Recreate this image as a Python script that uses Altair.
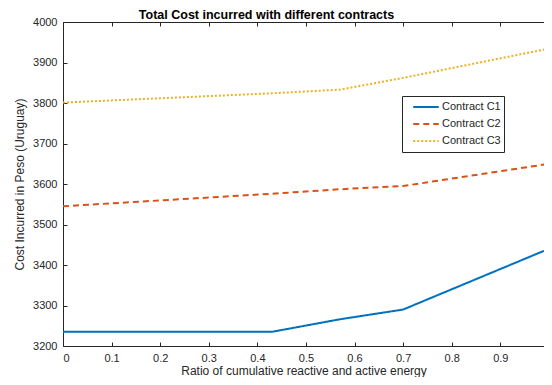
import altair as alt
import pandas as pd

ratio = [0.0, 0.43, 0.57, 0.70, 0.99]
contract_c1 = [3235, 3235, 3266, 3290, 3435]
contract_c2 = [3545, 3576, 3587, 3595, 3648]
contract_c3 = [3801, 3824, 3833, 3862, 3932]
series_names = ["Contract C1", "Contract C2", "Contract C3"]
colors = ["#0072BD", "#D95319", "#EDB120"]
dashes = [[1, 0], [6, 4], [2, 2]]
x_ticks = [0, 0.1, 0.2, 0.3, 0.4, 0.5, 0.6, 0.7, 0.8, 0.9]
y_ticks = [3200, 3300, 3400, 3500, 3600, 3700, 3800, 3900, 4000]

rows = []
for name, vals in zip(series_names, [contract_c1, contract_c2, contract_c3]):
    for x, v in zip(ratio, vals):
        rows.append({"ratio": x, "cost": v, "contract": name})
df = pd.DataFrame(rows)

font = "Liberation Sans"
xscale = alt.Scale(domain=[0, 0.99], nice=False, zero=False)
yscale = alt.Scale(domain=[3200, 4000], nice=False, zero=False)

y_enc = alt.Y("cost:Q", scale=yscale,
              axis=alt.Axis(values=y_ticks, title="Cost Incurred in Peso (Uruguay)",
                            offset=-4, tickSize=4, domain=False, grid=False, format="d",
                            labelPadding=6, titlePadding=6))

legend = alt.Legend(title=None, orient="none", legendX=339, legendY=74,
                    strokeColor="#262626", fillColor="white",
                    padding=3, symbolOffset=7, symbolType="stroke", symbolStrokeWidth=2,
                    symbolSize=650, clipHeight=16, labelFontSize=11, labelFont=font,
                    labelColor="#262626", rowPadding=1, labelOffset=2)

lines = alt.Chart(df).mark_line(strokeWidth=2).encode(
    x=alt.X("ratio:Q", scale=xscale,
            axis=alt.Axis(values=x_ticks, title="Ratio of cumulative reactive and active energy",
                          offset=-4, tickSize=4, domain=False, grid=False,
                          labelPadding=6, titlePadding=2, format="~g")),
    y=y_enc,
    color=alt.Color("contract:N", scale=alt.Scale(domain=series_names, range=colors),
                    legend=legend),
    strokeDash=alt.StrokeDash("contract:N", scale=alt.Scale(domain=series_names, range=dashes),
                              legend=legend),
)

top_ticks = alt.Chart(df).mark_line(opacity=0).encode(
    x=alt.X("ratio:Q", scale=xscale,
            axis=alt.Axis(values=x_ticks, orient="top", labels=False, title=None,
                          offset=-4, tickSize=4, domain=False, grid=False)),
    y=y_enc,
)

chart = alt.layer(lines, top_ticks).resolve_axis(x="independent").properties(
    width=481, height=324,
    title=alt.TitleParams("Total Cost incurred with different contracts",
                          font=font, fontSize=12.5, fontWeight="bold", color="black",
                          offset=3, anchor="middle", dx=-37, dy=8),
    autosize=alt.AutoSizeParams(type="none"),
    padding={"left": 55, "top": 14, "right": 0, "bottom": 31},
).configure_view(stroke="#262626", strokeWidth=1).configure_axis(
    labelFont=font, titleFont=font, labelFontSize=11, titleFontSize=12,
    labelColor="#262626", titleColor="#262626", tickColor="#262626",
    titleFontWeight="normal",
)

chart.save("out.html", embed_options={"renderer": "svg", "actions": False})
